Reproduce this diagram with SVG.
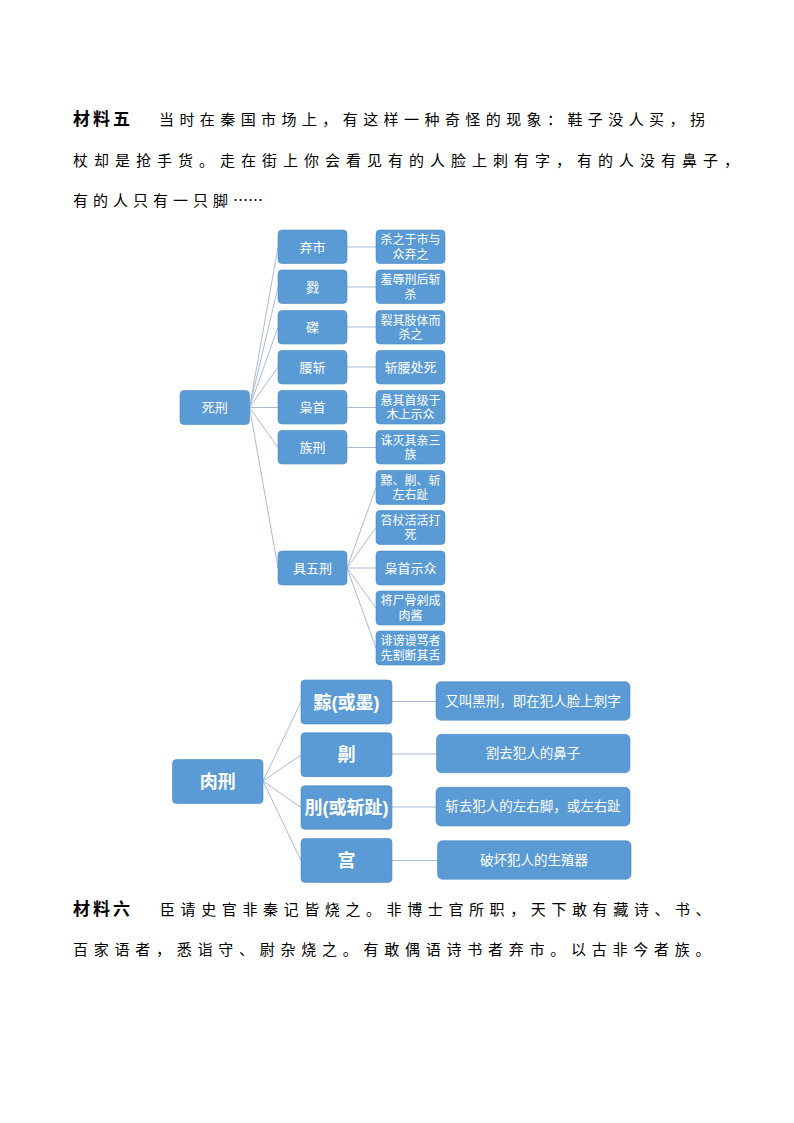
<svg xmlns="http://www.w3.org/2000/svg" width="794" height="1123" viewBox="0 0 794 1123">
<style>
.bg{fill:#ffffff}
.p{font-family:"Noto Sans CJK SC","Liberation Serif",serif;font-size:15px;fill:#000}
.h{font-family:"Noto Sans CJK SC","Liberation Sans",sans-serif;font-size:17px;font-weight:bold;fill:#000;letter-spacing:3px}
.box{fill:#5B9BD5;stroke:#4A89C4;stroke-width:0.6}
.t{font-family:"Noto Sans CJK SC","Liberation Sans",sans-serif;font-size:13px;fill:#ffffff;text-anchor:middle}
.t2{font-family:"Noto Sans CJK SC","Liberation Sans",sans-serif;font-size:12px;fill:#ffffff;text-anchor:middle}
.tb{font-family:"Liberation Sans","Noto Sans CJK SC",sans-serif;font-size:18px;font-weight:bold;fill:#ffffff;text-anchor:middle}
.tr{font-family:"Noto Sans CJK SC","Liberation Sans",sans-serif;font-size:13.5px;fill:#ffffff;text-anchor:middle}
.c{stroke:#A9BBD6;stroke-width:1;fill:none}
</style>
<rect class="bg" x="0" y="0" width="794" height="1123"/>

<g id="text-top">
<text class="h" x="73" y="125">材料五</text>
<text class="p" x="159" y="125" style="letter-spacing:5.42px">当时在秦国市场上，有这样一种奇怪的现象：鞋子没人买，拐</text>
<text class="p" x="73" y="166" style="letter-spacing:6px">杖却是抢手货。走在街上你会看见有的人脸上刺有字，有的人没有鼻子，</text>
<text class="p" x="73" y="206"><tspan style="letter-spacing:5px">有的人只有一只脚</tspan><tspan>……</tspan></text>
</g>

<g id="connectors">
<line class="c" x1="249.5" y1="407.5" x2="278" y2="247"/>
<line class="c" x1="249.5" y1="407.5" x2="278" y2="287"/>
<line class="c" x1="249.5" y1="407.5" x2="278" y2="327"/>
<line class="c" x1="249.5" y1="407.5" x2="278" y2="367"/>
<line class="c" x1="249.5" y1="407.5" x2="278" y2="407.5"/>
<line class="c" x1="249.5" y1="407.5" x2="278" y2="447.5"/>
<line class="c" x1="249.5" y1="407.5" x2="278" y2="568"/>
<line class="c" x1="347" y1="247" x2="376" y2="247"/>
<line class="c" x1="347" y1="287" x2="376" y2="287"/>
<line class="c" x1="347" y1="327" x2="376" y2="327"/>
<line class="c" x1="347" y1="367" x2="376" y2="367"/>
<line class="c" x1="347" y1="407.5" x2="376" y2="407.5"/>
<line class="c" x1="347" y1="447.5" x2="376" y2="447.5"/>
<line class="c" x1="347" y1="568" x2="376" y2="487.5"/>
<line class="c" x1="347" y1="568" x2="376" y2="527.5"/>
<line class="c" x1="347" y1="568" x2="376" y2="568"/>
<line class="c" x1="347" y1="568" x2="376" y2="608"/>
<line class="c" x1="347" y1="568" x2="376" y2="648"/>
<line class="c" x1="263" y1="781" x2="301" y2="702"/>
<line class="c" x1="263" y1="781" x2="301" y2="755"/>
<line class="c" x1="263" y1="781" x2="301" y2="807.5"/>
<line class="c" x1="263" y1="781" x2="301" y2="860.5"/>
<line class="c" x1="392" y1="701.5" x2="436" y2="701.5"/>
<line class="c" x1="392" y1="754" x2="436" y2="754"/>
<line class="c" x1="392" y1="807" x2="436" y2="807"/>
<line class="c" x1="392" y1="860.5" x2="437" y2="860.5"/>
</g>

<g id="n-sixing"><rect class="box" x="180" y="390.5" width="69.5" height="34" rx="4"/><text class="t" x="214.7" y="412">死刑</text></g>

<g id="n-qishi"><rect class="box" x="278" y="230" width="69" height="33.5" rx="4"/><text class="t" x="312.5" y="251.5">弃市</text></g>
<g id="n-lu"><rect class="box" x="278" y="270" width="69" height="33.5" rx="4"/><text class="t" x="312.5" y="291.5">戮</text></g>
<g id="n-zhe"><rect class="box" x="278" y="310.5" width="69" height="33.5" rx="4"/><text class="t" x="312.5" y="332">磔</text></g>
<g id="n-yaozhan"><rect class="box" x="278" y="350.5" width="69" height="33.5" rx="4"/><text class="t" x="312.5" y="372">腰斩</text></g>
<g id="n-xiaoshou"><rect class="box" x="278" y="390.5" width="69" height="33.5" rx="4"/><text class="t" x="312.5" y="412">枭首</text></g>
<g id="n-zuxing"><rect class="box" x="278" y="430.5" width="69" height="33.5" rx="4"/><text class="t" x="312.5" y="452">族刑</text></g>
<g id="n-juwuxing"><rect class="box" x="278" y="551" width="69" height="34" rx="4"/><text class="t" x="312.5" y="572.5">具五刑</text></g>

<g id="d-qishi"><rect class="box" x="376" y="230" width="69" height="33.5" rx="4"/><text class="t2"><tspan x="410.5" y="244">杀之于市与</tspan><tspan x="410.5" y="258.5">众弃之</tspan></text></g>
<g id="d-lu"><rect class="box" x="376" y="270" width="69" height="33.5" rx="4"/><text class="t2"><tspan x="410.5" y="284">羞辱刑后斩</tspan><tspan x="410.5" y="298.5">杀</tspan></text></g>
<g id="d-zhe"><rect class="box" x="376" y="310.5" width="69" height="33.5" rx="4"/><text class="t2"><tspan x="410.5" y="324.5">裂其肢体而</tspan><tspan x="410.5" y="339">杀之</tspan></text></g>
<g id="d-yaozhan"><rect class="box" x="376" y="350.5" width="69" height="33.5" rx="4"/><text class="t" x="410.5" y="372">斩腰处死</text></g>
<g id="d-xiaoshou"><rect class="box" x="376" y="390.5" width="69" height="33.5" rx="4"/><text class="t2"><tspan x="410.5" y="404.5">悬其首级于</tspan><tspan x="410.5" y="419">木上示众</tspan></text></g>
<g id="d-zuxing"><rect class="box" x="376" y="430.5" width="69" height="33.5" rx="4"/><text class="t2"><tspan x="410.5" y="444.5">诛灭其亲三</tspan><tspan x="410.5" y="459">族</tspan></text></g>
<g id="d-w1"><rect class="box" x="376" y="470.5" width="69" height="34" rx="4"/><text class="t2"><tspan x="410.5" y="484.5">黥、劓、斩</tspan><tspan x="410.5" y="499">左右趾</tspan></text></g>
<g id="d-w2"><rect class="box" x="376" y="510.5" width="69" height="34" rx="4"/><text class="t2"><tspan x="410.5" y="524.5">笞杖活活打</tspan><tspan x="410.5" y="539">死</tspan></text></g>
<g id="d-w3"><rect class="box" x="376" y="551" width="69" height="34" rx="4"/><text class="t" x="410.5" y="572.5">枭首示众</text></g>
<g id="d-w4"><rect class="box" x="376" y="591" width="69" height="34" rx="4"/><text class="t2"><tspan x="410.5" y="605">将尸骨剁成</tspan><tspan x="410.5" y="619.5">肉酱</tspan></text></g>
<g id="d-w5"><rect class="box" x="376" y="631" width="69" height="34" rx="4"/><text class="t2"><tspan x="410.5" y="645">诽谤谩骂者</tspan><tspan x="410.5" y="659.5">先割断其舌</tspan></text></g>

<g id="n-rouxing"><rect class="box" x="172.5" y="759.5" width="90.5" height="44" rx="4"/><text class="tb" x="217.7" y="788">肉刑</text></g>
<g id="n-qing"><rect class="box" x="301" y="680" width="91" height="44" rx="4"/><text class="tb" x="346.5" y="708.5">黥(或墨)</text></g>
<g id="n-yi"><rect class="box" x="301" y="732.7" width="91" height="44" rx="4"/><text class="tb" x="346.5" y="761">劓</text></g>
<g id="n-yue"><rect class="box" x="301" y="785.7" width="91" height="43.6" rx="4"/><text class="tb" x="346.5" y="814">刖(或斩趾)</text></g>
<g id="n-gong"><rect class="box" x="301" y="838.4" width="91" height="44" rx="4"/><text class="tb" x="346.5" y="867">宫</text></g>

<g id="d-qing"><rect class="box" x="436" y="681.7" width="194" height="38.5" rx="5"/><text class="tr" x="533" y="705.5">又叫黑刑，即在犯人脸上刺字</text></g>
<g id="d-yi"><rect class="box" x="436.5" y="734.3" width="193.5" height="38.5" rx="5"/><text class="tr" x="533" y="758">割去犯人的鼻子</text></g>
<g id="d-yue"><rect class="box" x="436" y="787.3" width="194" height="38.7" rx="5"/><text class="tr" x="533" y="811">斩去犯人的左右脚，或左右趾</text></g>
<g id="d-gong"><rect class="box" x="437.5" y="840.7" width="193.5" height="38.6" rx="5"/><text class="tr" x="534" y="864.5">破坏犯人的生殖器</text></g>

<g id="text-bottom">
<text class="h" x="73" y="915">材料六</text>
<text class="p" x="160" y="915" style="letter-spacing:5.6px">臣请史官非秦记皆烧之。非博士官所职，天下敢有藏诗、书、</text>
<text class="p" x="73" y="955" style="letter-spacing:5.75px">百家语者，悉诣守、尉杂烧之。有敢偶语诗书者弃市。以古非今者族。</text>
</g>
</svg>
